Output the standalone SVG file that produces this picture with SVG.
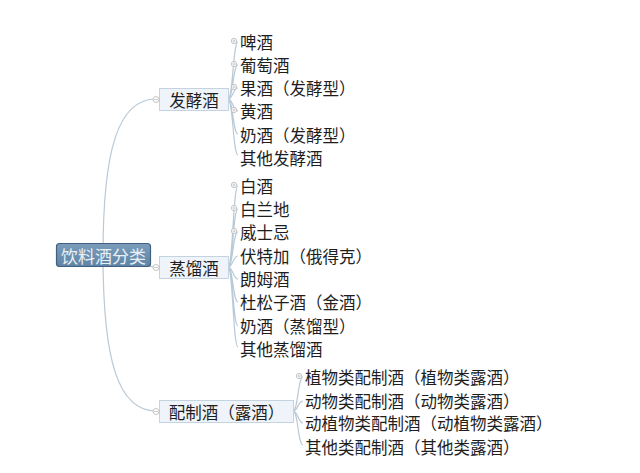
<svg xmlns="http://www.w3.org/2000/svg" width="640" height="473" viewBox="0 0 640 473">
<defs>
<style>
text{font-family:"Noto Sans CJK SC","Microsoft YaHei",sans-serif;font-size:16.5px;dominant-baseline:central;font-feature-settings:"chws" 0,"halt" 0,"palt" 0;text-spacing-trim:space-all}
.leaf{fill:#1e1e1e}
.br rect{fill:#eef4f9;stroke:#c3d3e0;stroke-width:1}
.br text{fill:#1e1e1e;text-anchor:middle}
.c{fill:none;stroke:#b9c9d6;stroke-width:1.2}
.m{fill:#fff;stroke:#b8b8b8;stroke-width:0.8}
.p{stroke:#b8b8b8;stroke-width:0.7}
</style>
<linearGradient id="rg" x1="0" y1="0" x2="0" y2="1">
<stop offset="0" stop-color="#7b9dbb"/>
<stop offset="1" stop-color="#5f84a5"/>
</linearGradient>
</defs>
<rect width="640" height="473" fill="#ffffff"/>
<g id="connectors">
<path class="c" d="M103,255 C103,150 118,99 156,99"/>
<path class="c" d="M103,255 C130,255 140,267 156,267"/>
<path class="c" d="M103,255 C103,360 118,411 156,411"/>
<path class="c" d="M228,99 C233,99 233,42 238,42 M228,99 C233,99 233,65 238,65 M228,99 C233,99 233,88 238,88 M228,99 C233,99 233,111 238,111 M228,99 C233,99 233,134 238,134 M228,99 C233,99 233,155 238,155"/>
<path class="c" d="M228,267 C233,267 233,186 238,186 M228,267 C233,267 233,209 238,209 M228,267 C233,267 233,232 238,232 M228,267 C233,267 233,256 238,256 M228,267 C233,267 233,279 238,279 M228,267 C233,267 233,302 238,302 M228,267 C233,267 233,326 238,326 M228,267 C233,267 233,347 238,347"/>
<path class="c" d="M293,411 C298,411 298,377 303,377 M293,411 C298,411 298,401 303,401 M293,411 C298,411 298,423 303,423 M293,411 C298,411 298,445 303,445"/>
</g>
<g id="root">
<rect x="56.500" y="243.500" width="94" height="23" rx="3" fill="url(#rg)" stroke="#3f6080" stroke-width="1.2"/>
<text x="103.500" y="255" fill="#e9f0f6" text-anchor="middle" style="font-size:17px">饮料酒分类</text>
</g>
<g id="fajiao" class="br">
<rect x="159.500" y="88.500" width="69" height="22"/>
<text x="194" y="99.500">发酵酒</text>
<circle class="m" cx="156" cy="99.500" r="3"/>
<line class="p" x1="154" y1="99.500" x2="158" y2="99.500"/>
</g>
<g id="zhengliu" class="br">
<rect x="159.500" y="256.500" width="69" height="22"/>
<text x="194" y="267.500">蒸馏酒</text>
<circle class="m" cx="156" cy="267.500" r="3"/>
<line class="p" x1="154" y1="267.500" x2="158" y2="267.500"/>
</g>
<g id="peizhi" class="br">
<rect x="159.500" y="400.500" width="134" height="22"/>
<text x="226.500" y="411.500">配制酒（露酒）</text>
<circle class="m" cx="156" cy="411.500" r="3"/>
<line class="p" x1="154" y1="411.500" x2="158" y2="411.500"/>
</g>
<g id="l1"><text class="leaf" x="240" y="42">啤酒</text></g>
<g id="l2"><text class="leaf" x="240" y="65">葡萄酒</text></g>
<g id="l3"><text class="leaf" x="240" y="88">果酒（发酵型）</text></g>
<g id="l4"><text class="leaf" x="240" y="111">黄酒</text></g>
<g id="l5"><text class="leaf" x="240" y="135">奶酒（发酵型）</text></g>
<g id="l6"><text class="leaf" x="240" y="158">其他发酵酒</text></g>
<g id="l7"><text class="leaf" x="240" y="186">白酒</text></g>
<g id="l8"><text class="leaf" x="240" y="209">白兰地</text></g>
<g id="l9"><text class="leaf" x="240" y="232">威士忌</text></g>
<g id="l10"><text class="leaf" x="240" y="256">伏特加（俄得克）</text></g>
<g id="l11"><text class="leaf" x="240" y="279">朗姆酒</text></g>
<g id="l12"><text class="leaf" x="240" y="302">杜松子酒（金酒）</text></g>
<g id="l13"><text class="leaf" x="240" y="326">奶酒（蒸馏型）</text></g>
<g id="l14"><text class="leaf" x="240" y="349">其他蒸馏酒</text></g>
<g id="l15"><text class="leaf" x="305" y="377">植物类配制酒（植物类露酒）</text></g>
<g id="l16"><text class="leaf" x="305" y="401">动物类配制酒（动物类露酒）</text></g>
<g id="l17"><text class="leaf" x="305" y="423">动植物类配制酒（动植物类露酒）</text></g>
<g id="l18"><text class="leaf" x="305" y="447">其他类配制酒（其他类露酒）</text></g>
<g id="markers">
<g transform="translate(234,41)"><circle class="m" r="2.700"/><path class="p" d="M-1.600,0H1.600M0,-1.600V1.600"/></g>
<g transform="translate(234,64)"><circle class="m" r="2.700"/><path class="p" d="M-1.600,0H1.600M0,-1.600V1.600"/></g>
<g transform="translate(234,87)"><circle class="m" r="2.700"/><path class="p" d="M-1.600,0H1.600M0,-1.600V1.600"/></g>
<g transform="translate(234,110)"><circle class="m" r="2.700"/><path class="p" d="M-1.600,0H1.600M0,-1.600V1.600"/></g>
<g transform="translate(234,185)"><circle class="m" r="2.700"/><path class="p" d="M-1.600,0H1.600M0,-1.600V1.600"/></g>
<g transform="translate(234,208)"><circle class="m" r="2.700"/><path class="p" d="M-1.600,0H1.600M0,-1.600V1.600"/></g>
<g transform="translate(234,231)"><circle class="m" r="2.700"/><path class="p" d="M-1.600,0H1.600M0,-1.600V1.600"/></g>
<g transform="translate(299,376)"><circle class="m" r="2.700"/><path class="p" d="M-1.600,0H1.600M0,-1.600V1.600"/></g>
</g>
</svg>
